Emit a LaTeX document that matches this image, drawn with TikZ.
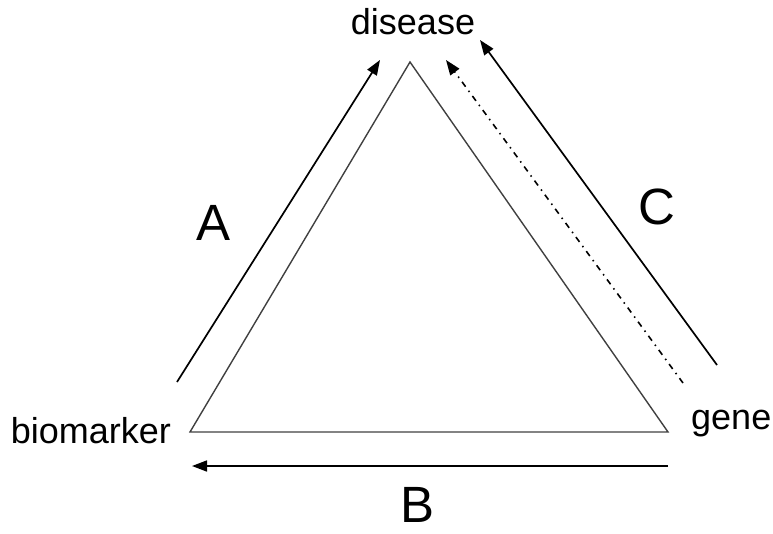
\documentclass[tikz,border=0pt]{standalone}
\usepackage{fontspec}
\setmainfont{Liberation Sans}
\usetikzlibrary{arrows.meta}
\begin{document}
\begin{tikzpicture}[x=1pt,y=-1pt,
  tri/.style={draw=black!75,line width=1.4pt},
  arr/.style={draw=black,line width=1.7pt,-{Triangle[length=15pt,width=11pt]}},
  dd/.style={draw=black,line width=1.6pt,dash pattern=on 6pt off 5pt on 1.5pt off 5pt,-{Triangle[length=15pt,width=11pt]}},
  lbl/.style={font=\fontsize{36}{40}\selectfont,inner sep=0pt},
  big/.style={font=\fontsize{51}{56}\selectfont,inner sep=0pt,text depth=0pt}]
\useasboundingbox (0,0) rectangle (773,533);
% triangle vertices
\coordinate (top) at (410,62);
\coordinate (bl) at (190,432);
\coordinate (br) at (668,432);
\draw[tri] (bl) -- (top) -- (br) -- cycle;
% arrow end points
\coordinate (a1) at (177,382);
\coordinate (a2) at (380,60);
\coordinate (c1) at (717,365);
\coordinate (c2) at (480,40);
\coordinate (d1) at (683,383);
\coordinate (d2) at (446,60);
\coordinate (b1) at (668,466);
\coordinate (b2) at (192,466);
\draw[arr] (a1) -- (a2);
\draw[arr] (c1) -- (c2);
\draw[dd] (d1) -- (d2);
\draw[arr] (b1) -- (b2);
% labels
\node[lbl] (disease) at (413,22) {disease};
\node[lbl,anchor=east] (biomarker) at (171,431) {biomarker};
\node[lbl,anchor=west] (gene) at (691,424) {gene};
\node[big,anchor=base] (A) at (214,240) {A};
\node[big,anchor=base] (C) at (657,224) {C};
\node[big,anchor=base] (B) at (418,522) {B};
\end{tikzpicture}
\end{document}
